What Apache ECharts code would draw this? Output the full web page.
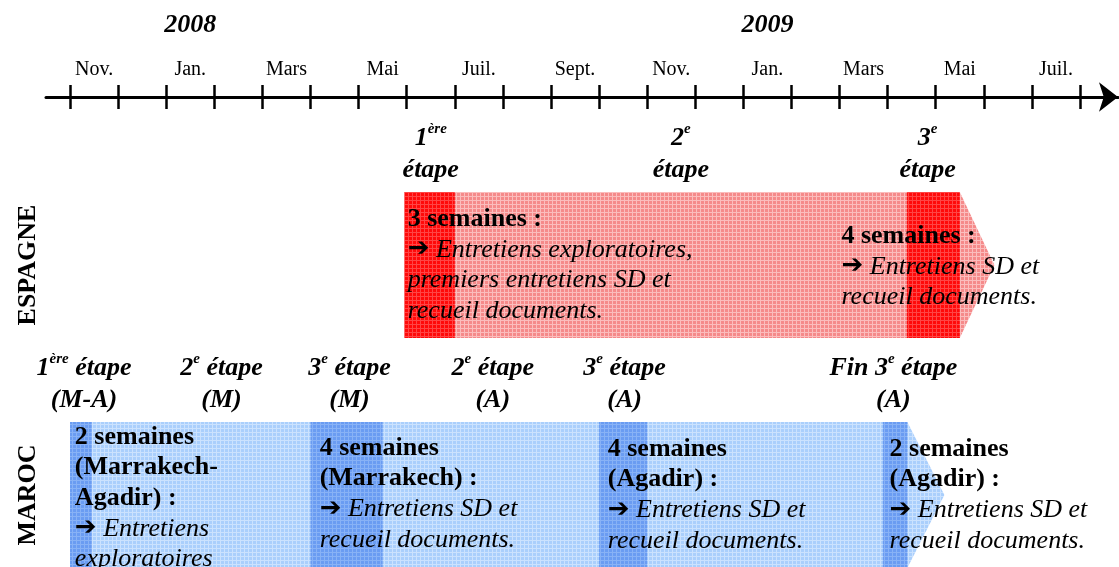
<!DOCTYPE html>
<html><head><meta charset="utf-8">
<script src="https://cdn.jsdelivr.net/npm/echarts@6/dist/echarts.min.js"></script>
<style>html,body{margin:0;padding:0;background:#fff}#c{width:1119px;height:567px}</style>
</head><body><div id="c"></div>
<script>
// Time is counted in months from the start of November 2007
const monthTickValues = [0,1,2,3,4,5,6,7,8,9,10,11,12,13,14,15,16,17,18,19,20,21];
const monthLabels = ['Nov.','Jan.','Mars','Mai','Juil.','Sept.','Nov.','Jan.','Mars','Mai','Juil.'];
const monthLabelValues = [0.5,2.5,4.5,6.5,8.5,10.5,12.5,14.5,16.5,18.5,20.5];
const yearLabels = ['2008','2009'];
const yearLabelValues = [2.5,14.5];
const rows = ['ESPAGNE','MAROC'];

// [start, end of body, arrow tip]
const spainPeriod = [6.95, 18.5, 19.22];
const marocPeriod = [0, 17.41, 18.18];
// fieldwork stays [start, end]
const spainFieldwork = [[6.95, 8.0], [17.4, 18.5]];
const marocFieldwork = [[0, 0.45], [5.0, 6.5], [11.0, 12.0], [16.9, 17.41]];

// stage labels
const spainStageX = [7.5, 12.7, 17.83];
const spainStageText = ['{n|1}{s|ère}\nétape', '{n|2}{s|e}\nétape', '{n|3}{s|e}\nétape'];
const marocStageX = [0.29, 3.15, 5.81, 8.79, 11.53, 17.12];
const marocStageText = ['{n|1}{s|ère}{n| étape}\n(M-A)', '{n|2}{s|e}{n| étape}\n(M)', '{n|3}{s|e}{n| étape}\n(M)',
  '{n|2}{s|e}{n| étape}\n(A)', '{n|3}{s|e}{n| étape}\n(A)', '{n|Fin 3}{s|e}{n| étape}\n(A)'];

// notes inside the bands
const spainNoteX = [7.02, 16.04];
const spainNoteText = [
  '{b|3 semaines :}\n{a|➔} Entretiens exploratoires,\npremiers entretiens SD et\nrecueil documents.',
  '{b|4 semaines :}\n{a|➔} Entretiens SD et\nrecueil documents.'
];
const marocNoteX = [0.1, 5.19, 11.18, 17.04];
const marocNoteText = [
  '{b|2 semaines}\n{b|(Marrakech-}\n{b|Agadir) :}\n{a|➔} Entretiens\nexploratoires',
  '{b|4 semaines}\n{b|(Marrakech) :}\n{a|➔} Entretiens SD et\nrecueil documents.',
  '{b|4 semaines}\n{b|(Agadir) :}\n{a|➔} Entretiens SD et\nrecueil documents.',
  '{b|2 semaines}\n{b|(Agadir) :}\n{a|➔} Entretiens SD et\nrecueil documents.'
];

// ---------- styling / layout ----------
const SERIF = '"Liberation Serif", "Times New Roman", serif';
const BAND_RATIO = 0.635;
const spainNoteDy = [12, 29];
const marocNoteDy = [0, 11, 12, 12];

function makePattern(base, line, step) {
  const c = document.createElement('canvas');
  c.width = step; c.height = step;
  const g = c.getContext('2d');
  g.fillStyle = base; g.fillRect(0, 0, step, step);
  g.fillStyle = line; g.fillRect(0, 0, step, 1); g.fillRect(0, 0, 1, step);
  return { image: c, repeat: 'repeat' };
}
const fills = {
  light: [makePattern('#f58a8a', '#fbbdbd', 4), makePattern('#aacffc', '#cbe2fe', 4)],
  dark: [makePattern('#ff0a0a', '#ff4545', 4), makePattern('#6a9cf2', '#88b2f6', 4)]
};

const stageRich = {
  n: { fontFamily: SERIF, fontWeight: 'bold', fontStyle: 'italic', fontSize: 26, lineHeight: 32 },
  s: { fontFamily: SERIF, fontWeight: 'bold', fontStyle: 'italic', fontSize: 15, lineHeight: 32, padding: [0, 0, 17, 0] }
};
const noteRich = {
  b: { fontFamily: SERIF, fontWeight: 'bold', fontStyle: 'normal', fontSize: 26, lineHeight: 30.5 },
  a: { fontFamily: '"DejaVu Sans", sans-serif', fontWeight: 'bold', fontStyle: 'normal', fontSize: 26, lineHeight: 30.5 }
};

function bandHalf(api) { return api.size([0, 1])[1] * BAND_RATIO / 2; }

function renderPeriod(params, api) {
  const row = api.value(3);
  const p0 = api.coord([api.value(0), row]);
  const p1 = api.coord([api.value(1), row]);
  const p2 = api.coord([api.value(2), row]);
  const h = bandHalf(api);
  return {
    type: 'polygon',
    shape: { points: [[p0[0], p0[1] - h], [p1[0], p1[1] - h], [p2[0], p2[1]], [p1[0], p1[1] + h], [p0[0], p0[1] + h]] },
    style: { fill: fills.light[row] }
  };
}
function renderField(params, api) {
  const row = api.value(2);
  const p0 = api.coord([api.value(0), row]);
  const p1 = api.coord([api.value(1), row]);
  const h = bandHalf(api);
  return { type: 'rect', shape: { x: p0[0], y: p0[1] - h, width: p1[0] - p0[0], height: 2 * h }, style: { fill: fills.dark[row] } };
}
function makeStageRenderer(texts) {
  return function (params, api) {
    const p = api.coord([api.value(0), api.value(1)]);
    const h = bandHalf(api);
    return {
      type: 'text', x: p[0], y: p[1] - h - 6,
      style: {
        text: texts[params.dataIndex], rich: stageRich, fill: '#000',
        fontFamily: SERIF, fontWeight: 'bold', fontStyle: 'italic', fontSize: 26, lineHeight: 32,
        align: 'center', verticalAlign: 'bottom'
      }
    };
  };
}
function makeNoteRenderer(texts, dys) {
  return function (params, api) {
    const p = api.coord([api.value(0), api.value(1)]);
    const h = bandHalf(api);
    return {
      type: 'text', x: p[0], y: p[1] - h + dys[params.dataIndex],
      style: {
        text: texts[params.dataIndex], rich: noteRich, fill: '#000',
        fontFamily: SERIF, fontWeight: 'normal', fontStyle: 'italic', fontSize: 26, lineHeight: 30.5,
        align: 'left', verticalAlign: 'top'
      }
    };
  };
}

// grid: left 46, right edge 1118 (arrow tip); 48.1 px per month
const X_MIN = -0.5, X_MAX = 21.79;
const baseX = { type: 'value', min: X_MIN, max: X_MAX, position: 'top', offset: 53, splitLine: { show: false } };

const option = {
  animation: false,
  backgroundColor: '#fff',
  grid: { left: 46, right: 1, top: 150, height: 460, containLabel: false, outerBoundsMode: 'none' },
  xAxis: [
    Object.assign({}, baseX, {
      axisLine: { show: true, lineStyle: { color: '#000', width: 3 }, symbol: ['none', 'arrow'], symbolSize: [22, 19] },
      axisTick: { show: true, customValues: monthTickValues, length: 12, lineStyle: { color: '#000', width: 2.5 } },
      axisLabel: {
        show: true, customValues: monthLabelValues, margin: 17,
        formatter: v => monthLabels[monthLabelValues.indexOf(v)],
        fontFamily: SERIF, fontSize: 20, color: '#000'
      }
    }),
    Object.assign({}, baseX, {
      axisLine: { show: false },
      axisTick: { show: true, inside: true, customValues: monthTickValues, length: 12, lineStyle: { color: '#000', width: 2.5 } },
      axisLabel: { show: false }
    }),
    Object.assign({}, baseX, {
      axisLine: { show: false },
      axisTick: { show: false },
      axisLabel: {
        show: true, customValues: yearLabelValues, margin: 59,
        formatter: v => yearLabels[yearLabelValues.indexOf(v)],
        fontFamily: SERIF, fontSize: 26, fontWeight: 'bold', fontStyle: 'italic', color: '#000'
      }
    })
  ],
  yAxis: {
    type: 'category', data: rows, inverse: true,
    axisLine: { show: false }, axisTick: { show: false }, splitLine: { show: false },
    axisLabel: { rotate: 90, margin: 5, fontFamily: SERIF, fontWeight: 'bold', fontSize: 26, color: '#000' }
  },
  series: [
    { type: 'custom', xAxisIndex: 0, clip: false, silent: true, renderItem: renderPeriod,
      encode: { x: [0, 1, 2], y: 3 },
      data: [spainPeriod.concat([0]), marocPeriod.concat([1])] },
    { type: 'custom', xAxisIndex: 0, clip: false, silent: true, renderItem: renderField,
      encode: { x: [0, 1], y: 2 },
      data: spainFieldwork.map(d => d.concat([0])).concat(marocFieldwork.map(d => d.concat([1]))) },
    { type: 'custom', xAxisIndex: 0, clip: false, silent: true, renderItem: makeStageRenderer(spainStageText),
      encode: { x: 0, y: 1 }, data: spainStageX.map(x => [x, 0]) },
    { type: 'custom', xAxisIndex: 0, clip: false, silent: true, renderItem: makeStageRenderer(marocStageText),
      encode: { x: 0, y: 1 }, data: marocStageX.map(x => [x, 1]) },
    { type: 'custom', xAxisIndex: 0, clip: false, silent: true, renderItem: makeNoteRenderer(spainNoteText, spainNoteDy),
      encode: { x: 0, y: 1 }, data: spainNoteX.map(x => [x, 0]) },
    { type: 'custom', xAxisIndex: 0, clip: false, silent: true, renderItem: makeNoteRenderer(marocNoteText, marocNoteDy),
      encode: { x: 0, y: 1 }, data: marocNoteX.map(x => [x, 1]) }
  ]
};

const chart = echarts.init(document.getElementById('c'), null, { renderer: 'canvas' });
chart.setOption(option);
</script>
</body></html>
